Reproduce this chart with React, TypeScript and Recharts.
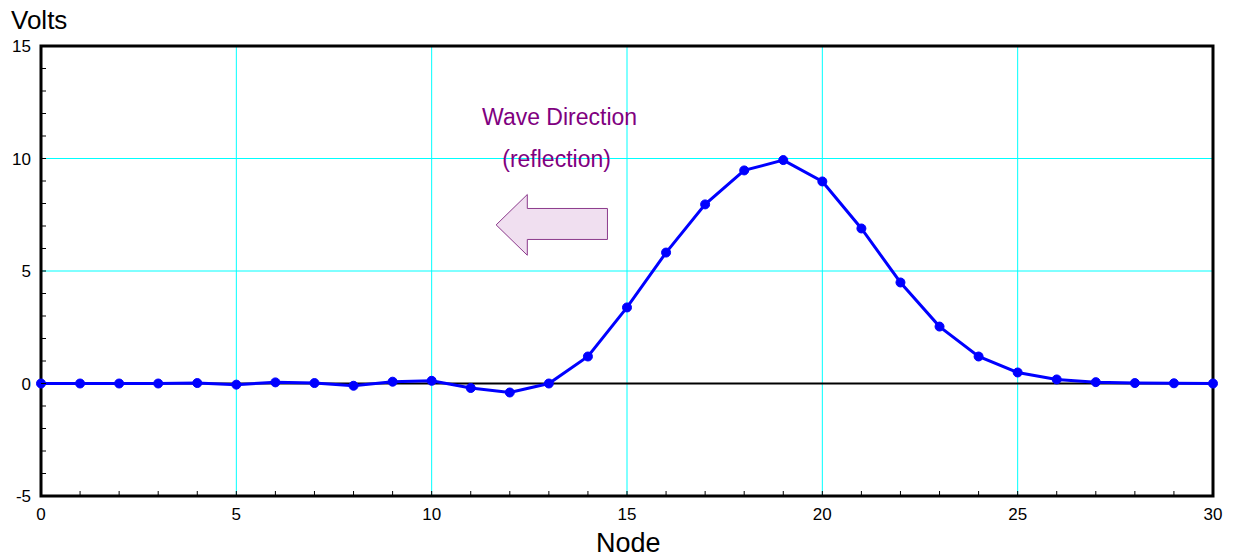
import React from 'react';
import { LineChart, Line, XAxis, YAxis, CartesianGrid, ReferenceLine, ReferenceArea } from 'recharts';

const nodes = [0,1,2,3,4,5,6,7,8,9,10,11,12,13,14,15,16,17,18,19,20,21,22,23,24,25,26,27,28,29,30];
const volts = [0,0,0,0,0.02,-0.05,0.05,0.02,-0.1,0.08,0.12,-0.2,-0.4,0,1.2,3.38,5.82,7.96,9.47,9.93,8.98,6.89,4.49,2.53,1.2,0.49,0.18,0.06,0.02,0.01,0];
const xTicks = [0,1,2,3,4,5,6,7,8,9,10,11,12,13,14,15,16,17,18,19,20,21,22,23,24,25,26,27,28,29,30];
const yTicks = [-5,-4,-3,-2,-1,0,1,2,3,4,5,6,7,8,9,10,11,12,13,14,15];
const gridX = [5,10,15,20,25];
const gridY = [5,10];
const annotationTitle = 'Wave Direction';
const annotationSub = '(reflection)';

const data = nodes.map((n, i) => ({ node: n, v: volts[i] }));

const FONT = '"Liberation Sans", Arial, Helvetica, sans-serif';

const renderXTick = (props: any) => {
  const { x, y, payload } = props;
  const v = payload.value;
  return (
    <g key={`xt-${v}`}>
      {v !== 0 && v !== 30 && <line x1={x} x2={x} y1={y} y2={y - 5} stroke="#000" strokeWidth={1} />}
      {v % 5 === 0 && (
        <text x={x} y={y + 24} textAnchor="middle" fontSize={17} fontFamily={FONT} fill="#000">{v}</text>
      )}
    </g>
  );
};

const renderYTick = (props: any) => {
  const { x, y, payload } = props;
  const v = payload.value;
  return (
    <g key={`yt-${v}`}>
      {v !== -5 && v !== 15 && <line x1={x} x2={x + 5} y1={y} y2={y} stroke="#000" strokeWidth={1} />}
      {v % 5 === 0 && (
        <text x={x - 10} y={y + 6} textAnchor="end" fontSize={17} fontFamily={FONT} fill="#000">{v}</text>
      )}
    </g>
  );
};

const ArrowShape = (props: any) => {
  const { x, y, width, height } = props;
  const x0 = x, x1 = x + width;
  const yTop = y, yBot = y + height;
  const headX = x0 + width * 0.28;
  const shaftTop = yTop + height * 0.23;
  const shaftBot = yTop + height * 0.74;
  const midY = yTop + height / 2;
  const pts = [
    [x0, midY], [headX, yTop], [headX, shaftTop], [x1, shaftTop], [x1, shaftBot], [headX, shaftBot], [headX, yBot],
  ].map((p) => p.join(',')).join(' ');
  const cx = x + width * 0.57;
  return (
    <g>
      <polygon points={pts} fill="#f0dff0" stroke="#8b3a8b" strokeWidth={1} />
      <text x={cx} y={yTop - 70} textAnchor="middle" fontSize={23} fontFamily={FONT} fill="#800080">{annotationTitle}</text>
      <text x={cx - 3} y={yTop - 28} textAnchor="middle" fontSize={23} fontFamily={FONT} fill="#800080">{annotationSub}</text>
    </g>
  );
};

export default function App() {
  return (
    <div style={{ position: 'absolute', left: 0, top: 0, width: 1233, height: 556, background: '#fff' }}>
      <LineChart width={1233} height={556} data={data} margin={{ top: 46, right: 20, bottom: 0, left: 0 }}>
        <CartesianGrid stroke="#00ffff" strokeWidth={1} horizontalValues={gridY} verticalValues={gridX} />
        <XAxis
          dataKey="node"
          type="number"
          domain={[0, 30]}
          ticks={xTicks}
          interval={0}
          height={60}
          tickSize={0}
          tickMargin={0}
          tickLine={false}
          axisLine={false}
          tick={renderXTick}
        />
        <YAxis
          type="number"
          domain={[-5, 15]}
          ticks={yTicks}
          interval={0}
          width={41}
          tickSize={0}
          tickMargin={0}
          tickLine={false}
          axisLine={false}
          tick={renderYTick}
        />
        <ReferenceArea x1={11.65} x2={14.5} y1={8.4} y2={5.7} shape={<ArrowShape />} ifOverflow="visible" />
        <ReferenceLine y={0} stroke="#000" strokeWidth={2} />
        <Line
          type="linear"
          dataKey="v"
          stroke="#0000ff"
          strokeWidth={3}
          dot={{ r: 4.5, fill: '#0000ff', stroke: '#0000ff', strokeWidth: 1 }}
          isAnimationActive={false}
        />
        <ReferenceArea x1={0} x2={30} y1={-5} y2={15} fill="none" fillOpacity={0} stroke="#000" strokeWidth={3} ifOverflow="visible" />
      </LineChart>
      <div style={{ position: 'absolute', left: 11, top: 5, fontFamily: FONT, fontSize: 26, color: '#000', lineHeight: '30px' }}>Volts</div>
      <div style={{ position: 'absolute', left: 596, top: 528, fontFamily: FONT, fontSize: 27, color: '#000', lineHeight: '30px' }}>Node</div>
    </div>
  );
}
